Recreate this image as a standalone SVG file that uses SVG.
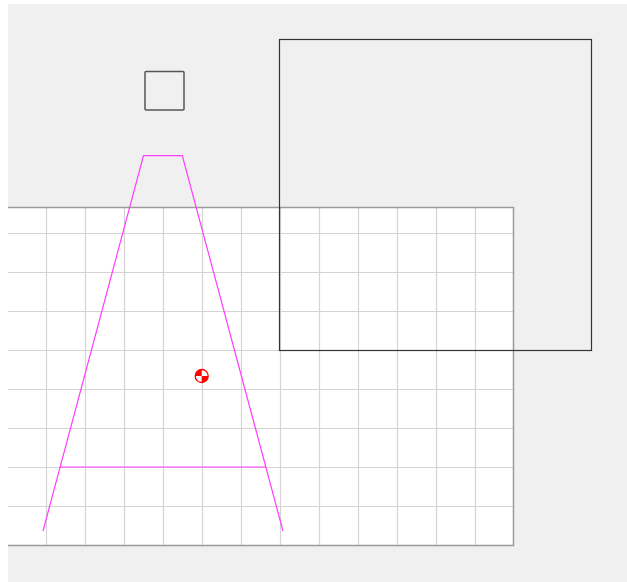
<svg xmlns="http://www.w3.org/2000/svg" width="627" height="582" viewBox="0 0 627 582">
<style>
.grid{stroke:#d4d4d4;stroke-width:1.2;fill:none}
.mag{stroke:#ff3cff;stroke-width:1.2;fill:none}
</style>
<rect x="0" y="0" width="627" height="582" fill="#ffffff"/>
<rect x="8" y="4" width="619" height="578" fill="#f0f0f0"/>
<g id="grid">
<rect x="8" y="207" width="506" height="339" fill="#ffffff"/>
<path class="grid" d="M46.5 207V546M85.5 207V546M124.5 207V546M163.5 207V546M202.5 207V546M241.5 207V546M280.5 207V546M319.5 207V546M358.5 207V546M397.5 207V546M436.5 207V546M475.5 207V546M8 233.5H514M8 272.5H514M8 311.5H514M8 350.5H514M8 389.5H514M8 428.5H514M8 467.5H514M8 506.5H514"/>
<path d="M8 207.5H513.5V545.5H8" fill="none" stroke="#9a9a9a" stroke-width="1.5"/>
</g>
<g id="bigbox">
<rect x="279.5" y="39.5" width="312" height="311" fill="none" stroke="#333" stroke-width="1.2"/>
</g>
<g id="smallbox">
<rect x="145" y="71.5" width="39" height="38.5" rx="1" fill="none" stroke="#555" stroke-width="1.5"/>
</g>
<g id="trapezoid">
<path class="mag" d="M43 531L143.5 155.7H182.3L283 531"/>
<path class="mag" d="M60.1 467H265.8"/>
</g>
<g id="com">
<circle cx="201.7" cy="376" r="6.5" fill="#fff" stroke="#f00" stroke-width="1.3"/>
<path d="M201.7 376V369.5A6.5 6.5 0 0 0 195.2 376Z M201.7 376V382.5A6.5 6.5 0 0 0 208.2 376Z" fill="#f00"/>
</g>
</svg>
